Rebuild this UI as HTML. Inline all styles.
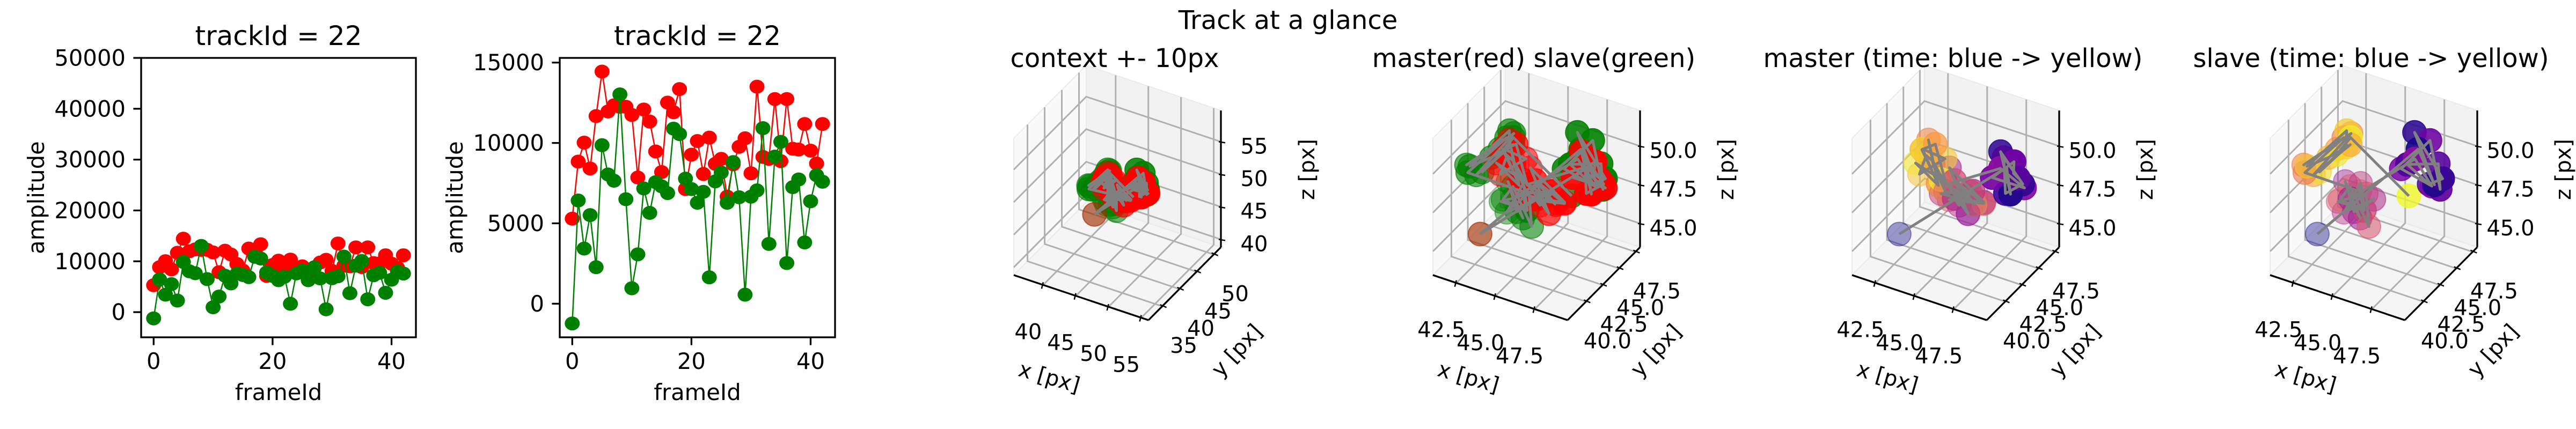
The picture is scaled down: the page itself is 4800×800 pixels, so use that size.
<!DOCTYPE html>
<html><head><meta charset="utf-8"><style>
html,body{margin:0;padding:0;background:#fff;}
svg{display:block;font-family:"DejaVu Sans","Liberation Sans",sans-serif;}
</style></head><body>
<svg id="fig" width="4800" height="800" viewBox="0 0 4800 800" xmlns="http://www.w3.org/2000/svg">
<rect width="4800" height="800" fill="#fff"/>
<text x="2400" y="54" font-size="48" text-anchor="middle">Track at a glance</text>
</svg>
<script>
// ---------- 2D amplitude data ----------
const frames = [0,1,2,3,4,5,6,7,8,9,10,11,12,13,14,15,16,17,18,19,20,21,22,23,24,25,26,27,28,29,30,31,32,33,34,35,36,37,38,39,40,41,42];
const masterAmp = [5290,8840,10020,8410,11670,14440,11960,12340,12250,12250,11740,7850,12080,11330,9470,8190,12510,11910,13350,7130,9270,10120,8070,10330,8700,9010,6660,8670,9760,10290,8110,13500,9130,9010,12730,8870,12730,9640,9590,11180,9520,8720,11180];
const slaveAmp = [-1230,6420,3430,5510,2270,9860,8040,7650,13020,6500,960,3070,7170,5650,7560,7300,6880,10890,10550,7780,7130,6280,6960,1640,7610,8160,6280,8810,6620,560,6660,7050,10920,3720,9150,10070,2530,7250,7730,3810,6370,7990,7590];
const xTicks2d = [0,20,40];
const yTicksA = [0,10000,20000,30000,40000,50000];
const yTicksB = [0,5000,10000,15000];

// ---------- 3D position data ----------
const masterX = [41.7,47.8,48.6,47.2,49.0,48.1,47.5,48.8,47.9,48.4,47.3,48.9,47.7,44.2,45.8,43.9,46.3,45.0,44.6,46.0,43.7,45.4,44.9,46.5,44.0,45.7,45.2,44.4,43.2,42.6,43.8,42.3,43.5,44.0,42.8,43.0,42.4,43.7,42.9,43.4,42.2,43.9,46.0];
const masterY = [42.7,44.5,43.2,45.0,44.1,43.6,44.8,43.9,45.3,44.2,43.5,44.6,43.8,44.0,43.4,45.1,44.6,43.2,44.9,43.7,44.3,45.2,43.5,44.1,44.8,43.9,44.5,43.3,44.3,45.0,43.6,44.7,43.9,44.4,45.2,43.7,44.1,44.9,43.4,44.6,44.0,43.8,44.0];
const masterZ = [44.0,49.6,48.7,50.2,49.1,48.4,50.0,49.5,48.9,50.3,49.2,48.6,49.8,47.5,46.4,48.0,46.8,47.2,45.9,47.8,46.6,46.2,48.2,47.0,46.1,47.6,46.9,47.4,48.3,49.4,47.6,48.8,49.9,47.2,48.0,49.1,47.5,48.6,49.6,46.9,48.2,47.8,46.8];
const slaveX = [41.7,47.5,48.8,46.9,49.2,48.0,47.2,48.5,49.0,47.8,46.6,48.3,47.6,43.2,44.1,42.6,43.8,44.6,42.9,43.5,44.3,42.4,43.9,44.7,43.0,42.7,44.0,43.4,41.2,42.8,41.0,43.1,42.5,41.5,43.3,42.2,41.3,42.9,43.0,41.8,42.6,43.2,47.0];
const slaveY = [42.7,44.2,43.6,45.1,43.9,44.7,43.3,44.9,44.0,45.3,43.8,44.4,43.5,44.1,43.5,44.8,43.3,44.4,43.9,45.0,43.7,44.2,44.9,43.4,44.6,43.8,44.3,45.1,42.0,44.1,42.3,44.5,43.8,42.6,43.9,43.2,42.1,44.3,44.0,42.8,43.5,44.2,44.0];
const slaveZ = [44.0,50.8,49.2,51.3,49.6,48.5,50.1,49.9,48.8,51.0,49.4,48.6,50.5,46.2,45.5,46.8,45.9,46.5,45.3,46.9,46.0,45.7,46.4,45.2,46.7,46.1,45.6,46.3,48.1,50.0,48.4,50.2,49.3,47.8,49.8,48.9,48.5,50.4,49.5,48.0,49.1,50.1,47.7];
const ctxTicksX = [40,45,50,55], ctxTicksY = [35,40,45,50], ctxTicksZ = [40,45,50,55];
const zoomTicksX = [42.5,45.0,47.5], zoomTicksY = [40.0,42.5,45.0,47.5], zoomTicksZ = [45.0,47.5,50.0];

const NS = "http://www.w3.org/2000/svg";
const svg = document.getElementById('fig');
function mk(tag, attrs, parent){ const e=document.createElementNS(NS,tag); for(const k in attrs) e.setAttribute(k,attrs[k]); (parent||svg).appendChild(e); return e; }

// ---------- 2D charts ----------
function chart2d(L, R, T, B, yDom, yTicks, ylabX, prefix){
  const g = mk('g', {});
  
  
  const xDom = [-2.1, 44.1];
  const sx = v => L + (v - xDom[0]) / (xDom[1] - xDom[0]) * (R - L);
  const sy = v => B - (v - yDom[0]) / (yDom[1] - yDom[0]) * (B - T);
  const series = [[masterAmp, '#ff0000', 'master'], [slaveAmp, '#008000', 'slave']];
  series.forEach(([vals, col, nm]) => {
    const pts = frames.map((f, i) => sx(f) + ',' + sy(vals[i])).join(' ');
    const pl = mk('polyline', {points: pts, fill: 'none', stroke: col, 'stroke-width': 2.5}, g);
    
    
    frames.forEach((f, i) => {
      const c = mk('ellipse', {cx: sx(f), cy: sy(vals[i]), rx: 14, ry: 13, fill: col}, g);
      
      
    });
  });
  const fr = mk('rect', {x: L, y: T, width: R - L, height: B - T, fill: 'none', stroke: '#000', 'stroke-width': 3.3}, g);
  
  
  yTicks.forEach(v => {
    mk('line', {x1: L - 14.6, x2: L, y1: sy(v), y2: sy(v), stroke: '#000', 'stroke-width': 3.3}, g);
    const t = mk('text', {x: L - 29, y: sy(v), 'font-size': 41.7, 'text-anchor': 'end', 'dominant-baseline': 'central'}, g);
    t.textContent = String(v);
    
    
  });
  xTicks2d.forEach(v => {
    mk('line', {x1: sx(v), x2: sx(v), y1: B, y2: B + 14.6, stroke: '#000', 'stroke-width': 3.3}, g);
    const t = mk('text', {x: sx(v), y: 688, 'font-size': 41.7, 'text-anchor': 'middle'}, g);
    t.textContent = String(v);
    
    
  });
  const tt = mk('text', {x: (L + R) / 2, y: 84, 'font-size': 50, 'text-anchor': 'middle'}, g);
  tt.textContent = 'trackId = 22';
  
  
  const xl = mk('text', {x: (L + R) / 2, y: 746, 'font-size': 41.7, 'text-anchor': 'middle'}, g);
  xl.textContent = 'frameId';
  
  
  const yl = mk('text', {transform: 'translate(' + ylabX + ',' + (T + B) / 2 + ') rotate(-90)', 'font-size': 41.7, 'text-anchor': 'middle'}, g);
  yl.textContent = 'amplitude';
  
  
}
chart2d(263, 775, 108, 629, [-4950, 50000], yTicksA, 82, 'full');
chart2d(1043, 1556, 108, 629, [-2090, 15290], yTicksB, 862, 'zoomed');

// ---------- 3D panels ----------
const plasmaStops = [[13,8,135],[126,3,168],[204,71,120],[248,149,64],[240,249,33]];
function plasma(t){ const s = t * 4, i = Math.min(3, Math.floor(s)), f = s - i; const a = plasmaStops[i], b = plasmaStops[i+1];
  return 'rgb(' + [0,1,2].map(k => Math.round(a[k] + (b[k] - a[k]) * f)).join(',') + ')'; }

function panel3d(ox, title, rng, ticks, mode, prefix){
  const g = mk('g', {});
  
  
  const X0 = ox, Y0 = 513, Xv = [251, 84], Yv = [135, -136], Uv = [0, -255];
  const P = (u, v, w) => [X0 + u * Xv[0] + v * Yv[0] + w * Uv[0], Y0 + u * Xv[1] + v * Yv[1] + w * Uv[1]];
  const nu = x => (x - rng[0][0]) / (rng[0][1] - rng[0][0]);
  const nv = y => (y - rng[1][0]) / (rng[1][1] - rng[1][0]);
  const nw = z => (z - rng[2][0]) / (rng[2][1] - rng[2][0]);
  const poly = (pts, fill, nm) => { const p = mk('polygon', {points: pts.map(q => q.join(',')).join(' '), fill: fill, stroke: '#ebebeb', 'stroke-width': 2}, g);
      };
  poly([P(0,0,0), P(0,1,0), P(0,1,1), P(0,0,1)], '#f9f9f9', 'left-pane');
  poly([P(0,1,0), P(1,1,0), P(1,1,1), P(0,1,1)], '#f2f2f2', 'back-pane');
  poly([P(0,0,0), P(1,0,0), P(1,1,0), P(0,1,0)], '#f5f5f5', 'floor-pane');
  const gl = (a) => mk('polyline', {points: a.map(q => q.join(',')).join(' '), fill: 'none', stroke: '#b0b0b0', 'stroke-width': 3}, g);
  ticks[0].forEach(t => { const u = nu(t); gl([P(u,0,0), P(u,1,0), P(u,1,1)]); });
  ticks[1].forEach(t => { const v = nv(t); gl([P(1,v,0), P(0,v,0), P(0,v,1)]); });
  ticks[2].forEach(t => { const w = nw(t); gl([P(0,0,w), P(0,1,w), P(1,1,w)]); });
  const ax = (a, b, nm) => { const l = mk('line', {x1: a[0], y1: a[1], x2: b[0], y2: b[1], stroke: '#000', 'stroke-width': 3.3}, g);
      };
  ax(P(0,0,0), P(1,0,0), 'x-axis-line'); ax(P(1,0,0), P(1,1,0), 'y-axis-line'); ax(P(1,1,0), P(1,1,1), 'z-axis-line');
  const lab = (x, y, s, nm) => { const t = mk('text', {x: x, y: y, 'font-size': 40, 'text-anchor': 'middle', 'dominant-baseline': 'central'}, g);
    t.textContent = s;   };
  const fmt = v => (mode === 'ctx') ? String(v) : v.toFixed(1);
  ticks[0].forEach(t => { const p = P(nu(t),0,0); mk('line', {x1: p[0], y1: p[1] - 5, x2: p[0] - 3, y2: p[1] + 7, stroke: '#000', 'stroke-width': 2.5}, g); lab(p[0] - 28, p[1] + 88, fmt(t), 'x-tick-label'); });
  ticks[1].forEach(t => { const p = P(1,nv(t),0); mk('line', {x1: p[0] - 4, y1: p[1] - 3, x2: p[0] + 8, y2: p[1] + 2, stroke: '#000', 'stroke-width': 2.5}, g); lab(p[0] + 40, p[1] + 74, fmt(t), 'y-tick-label'); });
  ticks[2].forEach(t => { const p = P(1,1,nw(t)); mk('line', {x1: p[0] - 4, y1: p[1], x2: p[0] + 8, y2: p[1] + 2, stroke: '#000', 'stroke-width': 2.5}, g); lab(p[0] + 62, p[1] + 9, fmt(t), 'z-tick-label'); });
  const axl = (dx, dy, rot, s, nm) => { const t = mk('text', {transform: 'translate(' + (X0 + dx) + ',' + (Y0 + dy) + ') rotate(' + rot + ')', 'font-size': 40, 'text-anchor': 'middle', 'dominant-baseline': 'central'}, g);
    t.textContent = s;   };
  axl(66, 191, 16, 'x [px]', 'x-axis-title');
  axl(416, 141, -47, 'y [px]', 'y-axis-title');
  axl(547, -197, -90, 'z [px]', 'z-axis-title');
  const tt = mk('text', {x: X0 + 188, y: 125, 'font-size': 48, 'text-anchor': 'middle'}, g);
  tt.textContent = title;  

  function scatter(xs, ys, zs, colorFn, nm){
    const pts = xs.map((x, i) => { const u = nu(x), v = nv(ys[i]), w = nw(zs[i]); return {i: i, p: P(u, v, w), d: -0.5 * u + 0.866 * v - 0.5 * w}; });
    const dmin = Math.min(...pts.map(q => q.d)), dmax = Math.max(...pts.map(q => q.d));
    pts.sort((a, b) => b.d - a.d).forEach(q => {
      const a = 1 - 0.6 * (q.d - dmin) / ((dmax - dmin) || 1);
      const c = colorFn(q.i);
      const e = mk('ellipse', {cx: q.p[0], cy: q.p[1], rx: 22, ry: 22, fill: c, 'fill-opacity': a, stroke: c, 'stroke-opacity': a, 'stroke-width': 2}, g);
      
      
    });
  }
  function path3(xs, ys, zs, nm){
    const pts = xs.map((x, i) => P(nu(x), nv(ys[i]), nw(zs[i])).join(',')).join(' ');
    const l = mk('polyline', {points: pts, fill: 'none', stroke: '#808080', 'stroke-width': 5, 'stroke-linejoin': 'round'}, g);
    
    
  }
  const n = masterX.length;
  if (mode === 'ctx' || mode === 'both'){
    scatter(slaveX, slaveY, slaveZ, i => '#008000', 'slave-point');
    scatter(masterX, masterY, masterZ, i => '#ff0000', 'master-point');
    path3(masterX, masterY, masterZ, 'master-trajectory');
    path3(slaveX, slaveY, slaveZ, 'slave-trajectory');
  } else if (mode === 'master'){
    scatter(masterX, masterY, masterZ, i => plasma(i / (n - 1)), 'master-time-point');
    path3(masterX, masterY, masterZ, 'master-trajectory');
  } else {
    scatter(slaveX, slaveY, slaveZ, i => plasma(i / (slaveX.length - 1)), 'slave-time-point');
    path3(slaveX, slaveY, slaveZ, 'slave-trajectory');
  }
}
const ctxRange = [[35.5,56.1],[31,52.1],[38.8,59.8]];
const zoomRange = [[41,49.6],[37.2,48.2],[43.47,52.3]];
panel3d(1889, 'context +- 10px', ctxRange, [ctxTicksX, ctxTicksY, ctxTicksZ], 'ctx', 'context');
panel3d(2670, 'master(red) slave(green)', zoomRange, [zoomTicksX, zoomTicksY, zoomTicksZ], 'both', 'master-slave');
panel3d(3451, 'master (time: blue -> yellow)', zoomRange, [zoomTicksX, zoomTicksY, zoomTicksZ], 'master', 'master-time');
panel3d(4230, 'slave (time: blue -> yellow)', zoomRange, [zoomTicksX, zoomTicksY, zoomTicksZ], 'slave', 'slave-time');
</script>
</body></html>
